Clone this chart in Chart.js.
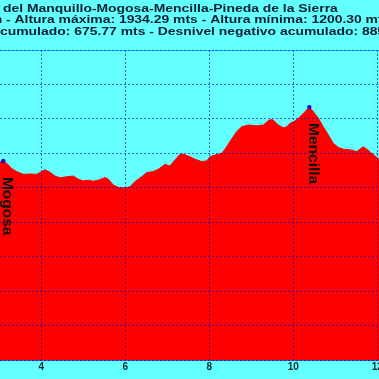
<!DOCTYPE html>
<html>
<head>
<meta charset="utf-8">
<script src="https://cdn.jsdelivr.net/npm/chart.js@4/dist/chart.umd.min.js"></script>
<style>
html,body{margin:0;padding:0;background:#64ffff;overflow:hidden;}
canvas{display:block;}
</style>
</head>
<body>
<canvas id="c" width="379" height="379"></canvas>
<script>
// ---- data ----
const distanceKm = [2.95, 3.095, 3.176, 3.295, 3.414, 3.571, 3.731, 3.890, 4.01, 4.088,
  4.207, 4.326, 4.445, 4.605, 4.762, 4.881, 5.0, 5.119, 5.238, 5.357,
  5.517, 5.595, 5.714, 5.833, 5.993, 6.112, 6.231, 6.39, 6.51, 6.667,
  6.786, 6.945, 7.064, 7.183, 7.302, 7.367, 7.5, 7.54, 7.659, 7.819,
  7.938, 8.017, 8.136, 8.295, 8.374, 8.493, 8.652, 8.771, 8.929, 9.129,
  9.286, 9.405, 9.486, 9.564, 9.643, 9.762, 9.843, 9.921, 10.04, 10.16,
  10.279, 10.381, 10.476, 10.595, 10.714, 10.833, 10.952, 11.071, 11.19, 11.35,
  11.51, 11.586, 11.667, 11.748, 11.867, 11.986, 12.04, 12.1];
const altitudeM = [1772, 1778, 1771, 1756, 1747, 1739, 1740, 1739, 1747, 1752,
  1745, 1734, 1729, 1732, 1734, 1725, 1720, 1722, 1719, 1722,
  1730, 1725, 1708, 1701, 1699, 1703, 1718, 1732, 1744, 1747,
  1754, 1768, 1763, 1781, 1797, 1798, 1792, 1790, 1783, 1776,
  1778, 1790, 1795, 1800, 1812, 1834, 1863, 1877, 1882, 1880,
  1882, 1895, 1899, 1892, 1882, 1874, 1877, 1887, 1894, 1906,
  1921, 1934.29, 1921, 1902, 1877, 1853, 1829, 1817, 1812, 1810,
  1805, 1812, 1819, 1812, 1800, 1788, 1783, 1775];
const waypointNames = ["Mogosa", "Mencilla"];
const waypointKm = [3.095, 10.381];
const waypointAlt = [1778, 1934.29];
const xTickValues = [4, 6, 8, 10, 12];
const titleLines = [
  "Puerto del Manquillo-Mogosa-Mencilla-Pineda de la Sierra",
  "Tiempo: 4 h 30 min - Altura máxima: 1934.29 mts - Altura mínima: 1200.30 mts",
  "Desnivel positivo acumulado: 675.77 mts - Desnivel negativo acumulado: 885.47 mts"
];
const titleHidden = ["Puerto ", "Tiempo: 4 h 30 min - ", "Desnivel positivo a"];

// ---- chart ----
const BG = '#64ffff';
const GRID = 'rgba(0,0,200,0.6)';

const profile = distanceKm.map((d, i) => ({x: d, y: altitudeM[i]}));
const points = waypointKm.map((d, i) => ({x: d, y: waypointAlt[i]}));

const decor = {
  id: 'decor',
  beforeDraw(chart) {
    const ctx = chart.ctx;
    ctx.save();
    ctx.fillStyle = BG;
    ctx.fillRect(0, 0, chart.width, chart.height);
    ctx.restore();
  },
  afterDraw(chart) {
    const ctx = chart.ctx;
    const a = chart.chartArea;
    ctx.save();
    // top border
    ctx.strokeStyle = 'rgba(0,100,255,0.55)';
    ctx.lineWidth = 1;
    ctx.beginPath();
    ctx.moveTo(a.left, a.top + 0.5);
    ctx.lineTo(a.right, a.top + 0.5);
    ctx.stroke();
    // title
    const sx = 1.265;
    const anchors = [3, 14.5, 0];
    const baselines = [11.5, 23, 34.5];
    ctx.font = 'bold 11px "Liberation Sans", Arial, sans-serif';
    ctx.fillStyle = '#0a2030';
    ctx.textBaseline = 'alphabetic';
    ctx.textAlign = 'left';
    titleLines.forEach((t, i) => {
      const pre = ctx.measureText(titleHidden[i]).width * sx;
      ctx.save();
      ctx.translate(anchors[i] - pre, baselines[i]);
      ctx.scale(sx, 1);
      ctx.fillText(t, 0, 0);
      ctx.restore();
    });
    // waypoint labels
    const meta = chart.getDatasetMeta(1);
    ctx.font = 'bold 15.5px "Liberation Sans", Arial, sans-serif';
    ctx.fillStyle = '#111111';
    ctx.textBaseline = 'middle';
    meta.data.forEach((el, i) => {
      ctx.save();
      ctx.translate(el.x + 4.2, el.y + 16);
      ctx.rotate(Math.PI / 2);
      ctx.fillText(waypointNames[i], 0, 0);
      ctx.restore();
    });
    ctx.restore();
  }
};

new Chart(document.getElementById('c'), {
  type: 'scatter',
  data: {
    datasets: [
      {
        data: profile,
        showLine: true,
        fill: 'start',
        backgroundColor: '#ff0000',
        borderColor: '#ff0000',
        borderWidth: 1,
        pointRadius: 0,
        pointHoverRadius: 0,
        tension: 0,
        order: 2
      },
      {
        data: points,
        showLine: false,
        pointRadius: 2.2,
        pointHoverRadius: 0,
        pointBackgroundColor: '#1010d0',
        pointBorderWidth: 0,
        order: 1
      }
    ]
  },
  options: {
    responsive: false,
    animation: false,
    devicePixelRatio: 1,
    layout: {autoPadding: false, padding: {top: 50, left: 0, right: 0, bottom: 0}},
    plugins: {legend: {display: false}, tooltip: {enabled: false}, title: {display: false}},
    scales: {
      x: {
        type: 'linear',
        min: 3.0167,
        max: 12.04,
        afterBuildTicks: s => { s.ticks = xTickValues.map(v => ({value: v})); },
        afterFit: s => { s.height = 19; s.paddingLeft = 0; s.paddingRight = 0; },
        grid: {color: GRID, z: 1, drawTicks: false},
        border: {display: true, color: GRID, dash: [2, 2], z: 1},
        ticks: {
          autoSkip: false,
          maxRotation: 0,
          padding: 1,
          color: '#0d2b2b',
          font: {family: '"Liberation Sans", Arial, sans-serif', size: 10, weight: 'bold'},
          callback: v => String(v)
        }
      },
      y: {
        type: 'linear',
        min: 1200,
        max: 2100,
        ticks: {display: false, stepSize: 100},
        afterFit: s => { s.width = 0; s.paddingTop = 0; s.paddingBottom = 0; },
        grid: {color: GRID, z: 1, drawTicks: false},
        border: {display: false, dash: [2, 2]}
      }
    }
  },
  plugins: [decor]
});
</script>
</body>
</html>
